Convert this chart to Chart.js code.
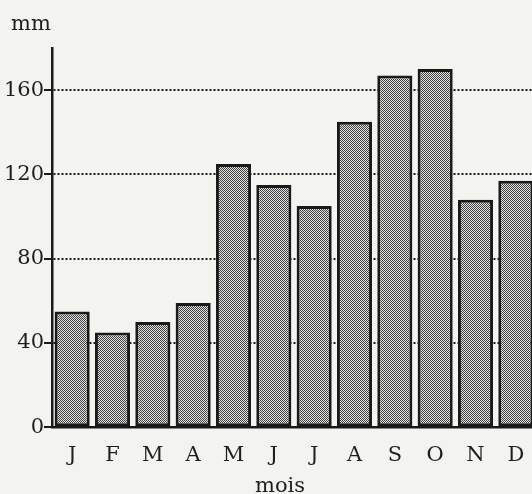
<!DOCTYPE html>
<html>
<head>
<meta charset="utf-8">
<script src="https://cdn.jsdelivr.net/npm/chart.js@4"></script>
<style>
  html, body { margin: 0; padding: 0; overflow: hidden; background: #f3f3f0; }
  #wrap { width: 540px; height: 494px; position: relative; }
  canvas { display: block; }
</style>
</head>
<body>
<div id="wrap"><canvas id="c" width="540" height="494"></canvas></div>
<script>
const months = ['J', 'F', 'M', 'A', 'M', 'J', 'J', 'A', 'S', 'O', 'N', 'D'];
const precipitation = [55, 45, 50, 59, 125, 115, 105, 145, 167, 170, 108, 117];
const yTickValues = [0, 40, 80, 120, 160];
const yUnit = 'mm';
const xTitle = 'mois';

function makePattern() {
  const p = document.createElement('canvas');
  p.width = 2; p.height = 2;
  const g = p.getContext('2d');
  g.fillStyle = '#e4e4e2'; g.fillRect(0, 0, 2, 2);
  g.fillStyle = '#404040';
  g.fillRect(0, 0, 1, 1);
  g.fillRect(1, 1, 1, 1);
  return document.getElementById('c').getContext('2d').createPattern(p, 'repeat');
}

const FONT = 'DejaVu Serif';

const textPlugin = {
  id: 'texts',
  afterDraw(chart) {
    const ctx = chart.ctx;
    ctx.save();
    ctx.fillStyle = '#1e1e1e';
    ctx.font = '21px "' + FONT + '"';
    ctx.textBaseline = 'alphabetic';
    ctx.textAlign = 'left';
    ctx.fillText(yUnit, 11, 30);
    ctx.fillText(xTitle, 255, 492);
    ctx.restore();
  }
};

new Chart(document.getElementById('c'), {
  type: 'bar',
  data: {
    labels: months,
    datasets: [{
      data: precipitation,
      backgroundColor: makePattern(),
      borderColor: '#1a1a1a',
      borderWidth: 3,
      borderSkipped: false,
      barPercentage: 0.87,
      categoryPercentage: 1.0
    }]
  },
  options: {
    responsive: false,
    animation: false,
    layout: { padding: { top: 48, right: 4, left: 0, bottom: 0 } },
    plugins: { legend: { display: false }, tooltip: { enabled: false } },
    scales: {
      x: {
        grid: { display: false },
        border: { display: true, color: '#1a1a1a', width: 2.5 },
        ticks: { color: '#1e1e1e', font: { family: FONT, size: 21 }, padding: 8, maxRotation: 0, autoSkip: false },
        afterFit(scale) { scale.height = 66.7; }
      },
      y: {
        min: 0,
        max: 180,
        afterBuildTicks(scale) { scale.ticks = yTickValues.map(v => ({ value: v })); },
        grid: {
          color: '#1a1a1a',
          lineWidth: 2,
          drawTicks: true,
          tickLength: 8,
          tickWidth: 2,
          tickColor: '#1a1a1a',
          tickBorderDash: []
        },
        border: { display: true, color: '#1a1a1a', width: 2.5, dash: [2, 2] },
        ticks: { color: '#1e1e1e', font: { family: FONT, size: 21 }, padding: 0 },
        afterFit(scale) { scale.width = 52; }
      }
    }
  },
  plugins: [textPlugin]
});
</script>
</body>
</html>
